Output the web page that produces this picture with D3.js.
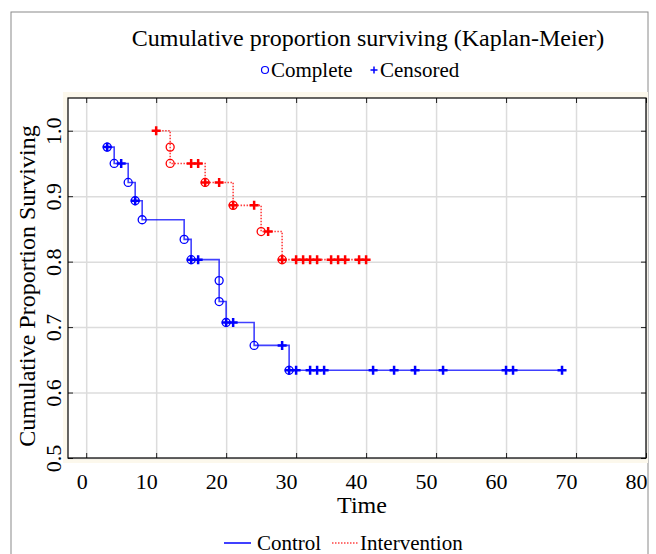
<!DOCTYPE html>
<html>
<head>
<meta charset="utf-8">
<script src="https://cdn.jsdelivr.net/npm/d3@7"></script>
<style>
  body { margin: 0; background: #fff; }
  svg text { font-family: "Liberation Serif", "Times New Roman", serif; fill: #000; }
</style>
</head>
<body>
<svg id="chart" width="656" height="554"></svg>
<script>
// Kaplan-Meier steps. type: c = complete, x = censored, cx = both
const controlTime = [3, 4, 5, 6, 7, 8, 14, 15, 16, 19, 19, 20, 21, 24, 28, 29, 30, 32, 33, 34, 41, 44, 47, 51, 60, 61, 68];
const controlSurv = [0.975, 0.950, 0.950, 0.921, 0.893, 0.864, 0.834, 0.803, 0.803, 0.771, 0.739, 0.707, 0.707, 0.672, 0.672, 0.634, 0.634, 0.634, 0.634, 0.634, 0.634, 0.634, 0.634, 0.634, 0.634, 0.634, 0.634];
const controlType = ["cx", "c", "x", "c", "cx", "c", "c", "cx", "x", "c", "c", "cx", "x", "c", "x", "cx", "x", "x", "x", "x", "x", "x", "x", "x", "x", "x", "x"];

const interventionTime = [10, 12, 12, 15, 16, 17, 19, 21, 24, 25, 26, 28, 30, 31, 32, 33, 35, 36, 37, 39, 40];
const interventionSurv = [1.000, 0.975, 0.950, 0.950, 0.950, 0.921, 0.921, 0.886, 0.886, 0.846, 0.846, 0.803, 0.803, 0.803, 0.803, 0.803, 0.803, 0.803, 0.803, 0.803, 0.803];
const interventionType = ["x", "c", "c", "x", "x", "cx", "x", "cx", "x", "c", "x", "cx", "x", "x", "x", "x", "x", "x", "x", "x", "x"];

const xTicks = [0, 10, 20, 30, 40, 50, 60, 70, 80];
const yTicks = [0.5, 0.6, 0.7, 0.8, 0.9, 1.0];

const BLUE = "#0000ff";
const RED = "#ff0000";

const svg = d3.select("#chart");
const plot = { left: 68, right: 646, top: 98, bottom: 458 };
const width = plot.right - plot.left;
const height = plot.bottom - plot.top;

const x = d3.scaleLinear().domain([-2.6, 80]).range([0, width]);
const y = d3.scaleLinear().domain([0.5, 1.05]).range([height, 0]);

// outer frame (cut by the window on the right/bottom)
svg.append("rect")
  .attr("x", 11).attr("y", 12)
  .attr("width", 637).attr("height", 620)
  .attr("fill", "#fff")
  .attr("stroke", "#8a8a8a");

// faint cream band behind the plot box
svg.append("rect")
  .attr("x", plot.left - 5).attr("y", plot.top - 6)
  .attr("width", width + 7).attr("height", height + 11)
  .attr("fill", "#fcf8ec");

const g = svg.append("g").attr("transform", `translate(${plot.left},${plot.top})`);

g.append("rect").attr("width", width).attr("height", height).attr("fill", "#fff");

// gridlines
g.append("g")
  .attr("class", "grid")
  .attr("transform", `translate(0,${height})`)
  .call(d3.axisBottom(x).tickValues(xTicks).tickSize(-height).tickFormat(""));
g.append("g")
  .attr("class", "grid")
  .call(d3.axisLeft(y).tickValues(yTicks).tickSize(-width).tickFormat(""));
g.selectAll(".grid .domain").remove();
g.selectAll(".grid line").attr("stroke", "#dcdcdc").attr("stroke-width", 1.5);

// axes with short inward ticks
const xAxis = g.append("g")
  .attr("transform", `translate(0,${height})`)
  .call(d3.axisBottom(x).tickValues(xTicks).tickSize(-5).tickFormat(d3.format("d")));
xAxis.selectAll("text")
  .attr("y", 31).attr("dy", 0).attr("x", 1)
  .attr("text-anchor", "end")
  .style("font-size", "22px");

const yAxis = g.append("g")
  .call(d3.axisLeft(y).tickValues(yTicks).tickSize(-5).tickFormat(d3.format(".1f")));
yAxis.selectAll("text")
  .attr("x", 0).attr("y", 0).attr("dy", 0)
  .attr("text-anchor", "middle")
  .attr("transform", "translate(-7,0) rotate(-90)")
  .style("font-size", "22px");

g.append("g").call(d3.axisTop(x).tickValues(xTicks).tickSize(-5).tickFormat(""));
g.append("g").attr("transform", `translate(${width},0)`)
  .call(d3.axisRight(y).tickValues(yTicks).tickSize(-5).tickFormat(""));
g.selectAll(".domain").remove();
g.selectAll(".tick line:not(.grid .tick line)").attr("stroke", "#222");

// plot frame
g.append("rect")
  .attr("width", width).attr("height", height)
  .attr("fill", "none").attr("stroke", "#000").attr("stroke-width", 1.2);

// survival curves
const step = d3.line().x(d => x(d[0])).y(d => y(d[1])).curve(d3.curveStepAfter);
const plusPath = s => `M${-s},0H${s}M0,${-s}V${s}`;

function drawGroup(times, surv, types, color, dash) {
  const pts = times.map((t, i) => [t, surv[i], types[i]]);
  g.append("path")
    .datum(pts)
    .attr("d", step)
    .attr("fill", "none")
    .attr("stroke", color)
    .attr("stroke-opacity", 0.75)
    .attr("stroke-width", 1.6)
    .attr("stroke-dasharray", dash);

  g.selectAll(null)
    .data(pts.filter(d => d[2].includes("c")))
    .join("circle")
    .attr("cx", d => x(d[0]))
    .attr("cy", d => y(d[1]))
    .attr("r", 4)
    .attr("fill", "none")
    .attr("stroke", color)
    .attr("stroke-width", 1.3);

  g.selectAll(null)
    .data(pts.filter(d => d[2].includes("x")))
    .join("path")
    .attr("transform", d => `translate(${x(d[0])},${y(d[1])})`)
    .attr("d", plusPath(4.5))
    .attr("fill", "none")
    .attr("stroke", color)
    .attr("stroke-width", 2.5);
}

drawGroup(controlTime, controlSurv, controlType, BLUE, null);
drawGroup(interventionTime, interventionSurv, interventionType, RED, "1.5,1.5");

// titles
svg.append("text")
  .attr("x", 368).attr("y", 46)
  .attr("text-anchor", "middle")
  .style("font-size", "24px")
  .text("Cumulative proportion surviving (Kaplan-Meier)");

// top legend: marker kinds
svg.append("circle")
  .attr("cx", 265).attr("cy", 70).attr("r", 3.5)
  .attr("fill", "none").attr("stroke", BLUE).attr("stroke-width", 1.2);
svg.append("text").attr("x", 271).attr("y", 77).style("font-size", "21px").text("Complete");
svg.append("path")
  .attr("transform", "translate(374,70)")
  .attr("d", plusPath(3.5))
  .attr("stroke", BLUE).attr("stroke-width", 1.5);
svg.append("text").attr("x", 380).attr("y", 77).style("font-size", "21px").text("Censored");

// axis titles
svg.append("text")
  .attr("x", 362).attr("y", 513)
  .attr("text-anchor", "middle")
  .style("font-size", "24px")
  .text("Time");

svg.append("text")
  .attr("transform", "translate(35,286) rotate(-90)")
  .attr("text-anchor", "middle")
  .style("font-size", "24px")
  .text("Cumulative Proportion Surviving");

// bottom legend: groups
svg.append("line")
  .attr("x1", 224).attr("x2", 251).attr("y1", 543).attr("y2", 543)
  .attr("stroke", BLUE).attr("stroke-width", 1.5);
svg.append("text").attr("x", 257).attr("y", 550).style("font-size", "21px").text("Control");
svg.append("line")
  .attr("x1", 332).attr("x2", 358).attr("y1", 543).attr("y2", 543)
  .attr("stroke", RED).attr("stroke-opacity", 0.75).attr("stroke-width", 1.5)
  .attr("stroke-dasharray", "1.5,1.5");
svg.append("text").attr("x", 360).attr("y", 550).style("font-size", "21px").text("Intervention");
</script>
</body>
</html>
